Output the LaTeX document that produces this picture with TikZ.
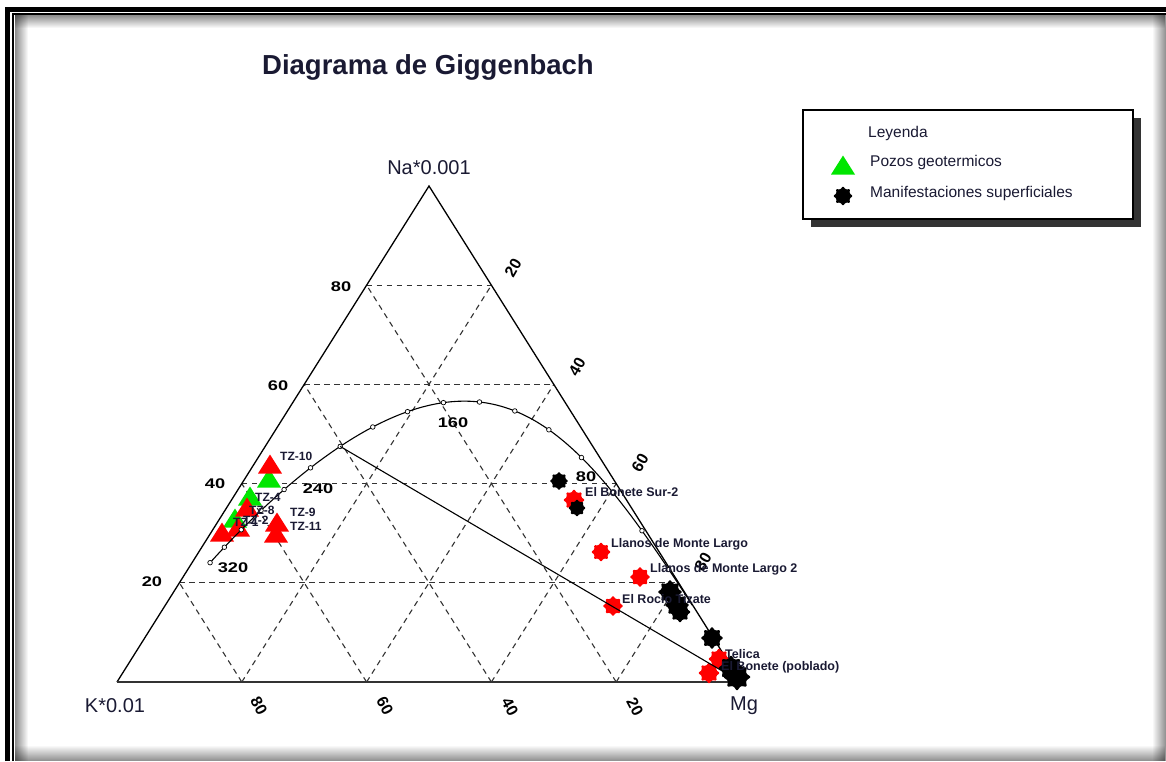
\documentclass[tikz,border=0pt]{standalone}
\usepackage{fontspec}
\setmainfont{Liberation Sans}
\usetikzlibrary{shapes.geometric,fadings}

\definecolor{ink}{HTML}{1A1A33}
\definecolor{legshadow}{HTML}{333333}
\definecolor{wellred}{HTML}{FF0000}
\definecolor{wellgreen}{HTML}{00E600}

\tikzset{
  gridline/.style={line width=1.1pt, dash pattern=on 5.5pt off 4.5pt, black!80},
  sideline/.style={line width=1.3pt, black},
  eqcurve/.style={line width=1.1pt, black},
  tempdot/.style={circle, draw, line width=0.7pt, fill=white, inner sep=0pt, minimum size=4.6pt},
  axisname/.style={font=\fontsize{20}{20}\selectfont, text=ink, inner sep=0pt},
  ticknum/.style={font=\bfseries\fontsize{16}{16}\selectfont, inner sep=0pt, text=black},
  widenum/.style={ticknum, font=\bfseries\fontsize{14}{14}\selectfont, xscale=1.3},
  wellname/.style={font=\bfseries\fontsize{12}{12}\selectfont, anchor=west, inner sep=0pt, text=ink},
  sitename/.style={font=\bfseries\fontsize{12.5}{12.5}\selectfont, anchor=west, inner sep=0pt, text=ink},
  legtext/.style={font=\fontsize{15.5}{15.5}\selectfont, anchor=west, inner sep=0pt, text=ink},
  spring/.style={star, star points=8, star point ratio=1.45, rounded corners=1.2pt, inner sep=0pt, minimum size=#1, draw=none},
  wellmark/.pic={\fill[#1] (-12,9.5) -- (12,9.5) -- (0,-9.5) -- cycle;},
  edgeshadow/.style={fill=black, fill opacity=0.45, path fading=#1},
}

\begin{document}
\begin{tikzpicture}[x=1pt, y=-1pt,
  declare function={
    kk(\t)=pow(10,2.75-1390/(\t+273));
    mm(\t)=pow(10,815/(\t+273)-2.25);
    tx(\t)=(429+117*kk(\t)+741*mm(\t))/(1+kk(\t)+mm(\t));
    ty(\t)=(186+682*kk(\t)+682*mm(\t))/(1+kk(\t)+mm(\t));
  }]
\useasboundingbox (0,0) rectangle (1166,761);
\fill[white] (0,0) rectangle (1166,761);

% page frame with inner shadow
\fill[edgeshadow=south] (15,15) rectangle (1166,28);
\fill[edgeshadow=east] (15,15) rectangle (28,761);
\fill[edgeshadow=west] (1152,15) rectangle (1166,761);
\fill[edgeshadow=north] (15,745) rectangle (1166,761);
\draw[line width=5pt] (7.5,761) -- (7.5,9.5) -- (1166,9.5);
\draw[line width=1.6pt] (13,761) -- (13,14.2) -- (1166,14.2);

% title
\node[font=\bfseries\fontsize{27.5}{27.5}\selectfont, text=ink] (title) at (428,67) {Diagrama de Giggenbach};

% ternary frame
\coordinate (K) at (117,682);
\coordinate (Mg) at (741,682);
\coordinate (Na) at (429,186);

\foreach \f in {0.2,0.4,0.6,0.8} {
  \pgfmathsetmacro\g{1-\f}
  \draw[gridline] (barycentric cs:K=\g,Na=\f) -- (barycentric cs:Mg=\g,Na=\f);
  \draw[gridline] (barycentric cs:K=\f,Mg=\g) -- (barycentric cs:K=\f,Na=\g);
  \draw[gridline] (barycentric cs:Mg=\f,K=\g) -- (barycentric cs:Mg=\f,Na=\g);
}
\draw[sideline] (K) -- (Na) -- (Mg);
\draw[line width=2pt, black!80] (K) -- (Mg);

% corner names
\node[axisname] (naname) at (429,168) {Na*0.001};
\node[axisname] (kname) at (115,706) {K*0.01};
\node[axisname] (mgname) at (744,706) {Mg};

% left side scale
\node[widenum] (l80) at (341,287) {80};
\node[widenum] (l60) at (278,386) {60};
\node[widenum] (l40) at (215,484) {40};
\node[widenum] (l20) at (152,582) {20};
% right side scale
\node[ticknum, rotate=60] (r20) at (513,268) {20};
\node[ticknum, rotate=60] (r40) at (577,367) {40};
\node[ticknum, rotate=60] (r60) at (640,463) {60};
% base scale
\node[ticknum, rotate=-62] (b80) at (259,706) {80};
\node[ticknum, rotate=-62] (b60) at (385,706) {60};
\node[ticknum, rotate=-62] (b40) at (510,707) {40};
\node[ticknum, rotate=-62] (b20) at (635,707) {20};

% geothermal wells
\pic at (269,478) {wellmark=wellgreen};
\pic at (250,496) {wellmark=wellgreen};
\pic at (235,518) {wellmark=wellgreen};
\pic at (270,464) {wellmark=wellred};
\pic at (247,507) {wellmark=wellred};
\pic at (238,527) {wellmark=wellred};
\pic at (222,532) {wellmark=wellred};
\pic at (277,522) {wellmark=wellred};
\pic at (276,533) {wellmark=wellred};

% springs (red)
\node[spring=22pt, fill=wellred] (s1) at (574,500) {};
\node[spring=20pt, fill=wellred] (s2) at (601,552) {};
\node[spring=21pt, fill=wellred] (s3) at (640,577) {};
\node[spring=21pt, fill=wellred] (s4) at (613,606) {};
\node[spring=22pt, fill=wellred] (s5) at (719,659) {};
\node[spring=22pt, fill=wellred] (s6) at (709,673) {};

% full equilibrium curve
\draw[eqcurve] plot[domain=0:340, samples=86, smooth, variable=\t] ({tx(\t)},{ty(\t)});
\foreach \tc in {20,40,...,340}
  \node[tempdot] (dot\tc) at ({tx(\tc)},{ty(\tc)}) {};
\coordinate (t220) at ({tx(220)},{ty(220)});
\draw[line width=1.1pt] (t220) -- (Mg);

% springs (black)
\node[spring=19pt, fill=black] (m1) at (559,481) {};
\node[spring=18pt, fill=black] (m2) at (577,508) {};
\node[spring=25pt, fill=black] (m3) at (670,592) {};
\node[spring=25pt, fill=black] (m4) at (677,605) {};
\node[spring=22pt, fill=black] (m5) at (680,612) {};
\node[spring=23pt, fill=black] (m6) at (712,638) {};
\node[spring=26pt, fill=black] (m7) at (731,668) {};
\node[spring=28pt, fill=black] (m8) at (737,677) {};

% temperature marks on the curve
\node[widenum] (t160) at (453,423) {160};
\node[widenum] (t240) at (318,489) {240};
\node[widenum] (t320) at (233,568) {320};
\node[widenum] (t80) at (586,477) {80};
\node[ticknum, rotate=60] (r80) at (703,562) {80};

% well names
\node[wellname] (tz10) at (280,456) {TZ-10};
\node[wellname] (tz4) at (255,497) {TZ-4};
\node[wellname] (tz8) at (249,510) {TZ-8};
\node[wellname] (tz1) at (233,522) {TZ-1};
\node[wellname] (tz2) at (243,520) {TZ-2};
\node[wellname] (tz9) at (290,512) {TZ-9};
\node[wellname] (tz11) at (290,526) {TZ-11};

% spring names
\node[sitename] (n1) at (585,492) {El Bonete Sur-2};
\node[sitename] (n2) at (611,544) {Llanos de Monte Largo};
\node[sitename] (n3) at (650,569) {Llanos de Monte Largo 2};
\node[sitename] (n4) at (622,599) {El Rocio Tizate};
\node[sitename] (n5) at (725,654) {Telica};
\node[sitename] (n6) at (721,667) {El Bonete (poblado)};

% legend
\fill[legshadow] (811,118) rectangle (1141,227);
\draw[line width=1.3pt, fill=white] (803,110) rectangle (1133,219);
\node[legtext] (legtitle) at (868,133) {Leyenda};
\pic at (843,165) {wellmark=wellgreen};
\node[legtext] (legwell) at (870,162) {Pozos geotermicos};
\node[spring=20pt, fill=black] (legstar) at (843,196) {};
\node[legtext] (legspring) at (870,193) {Manifestaciones superficiales};
\end{tikzpicture}
\end{document}
